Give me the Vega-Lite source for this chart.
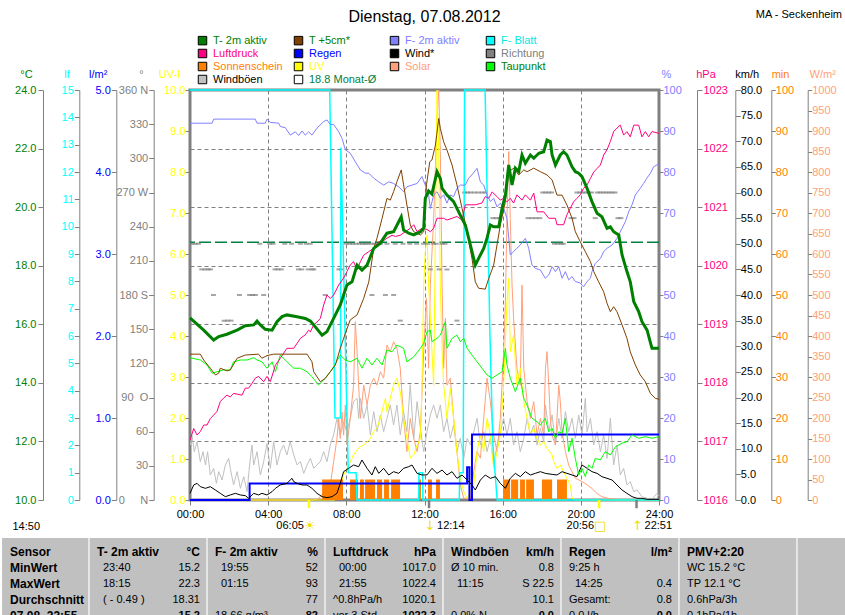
{
  "$schema": "https://vega.github.io/schema/vega-lite/v6.json",
  "padding": {"left": 0, "top": 7, "right": 0, "bottom": 0},
  "background": "white",
  "title": {"text": "MA - Seckenheim", "anchor": "end", "frame": "bounds", "offset": -12, "fontSize": 11, "fontWeight": "normal", "color": "#000000", "dx": -5},
  "config": {
    "font": "Liberation Sans",
    "view": {"stroke": null},
    "axis": {"labelFontSize": 11, "titleFontSize": 11, "titleFontWeight": "normal", "labelOverlap": false, "domainColor": "#808080", "tickColor": "#808080", "grid": false, "labelFont": "Liberation Sans", "titleFont": "Liberation Sans"},
    "title": {"font": "Liberation Sans", "fontWeight": "normal"}
  },
  "datasets": {
    "T2": [{"t":0,"v":16.22},{"t":0.7,"v":15.8},{"t":1.21,"v":15.46},{"t":1.47,"v":15.58},{"t":1.89,"v":15.66},{"t":2.41,"v":15.8},{"t":2.83,"v":15.95},{"t":3.26,"v":15.98},{"t":3.43,"v":16.11},{"t":3.6,"v":15.98},{"t":3.85,"v":15.83},{"t":4.2,"v":15.8},{"t":4.45,"v":16.09},{"t":4.71,"v":16.26},{"t":4.96,"v":16.32},{"t":5.48,"v":16.26},{"t":5.9,"v":16.2},{"t":6.16,"v":16.11},{"t":6.33,"v":15.98},{"t":6.76,"v":15.63},{"t":7.01,"v":15.75},{"t":7.35,"v":16.2},{"t":7.69,"v":16.66},{"t":8.03,"v":17.34},{"t":8.29,"v":17.45},{"t":8.55,"v":18.02},{"t":8.8,"v":17.85},{"t":9.06,"v":18.02},{"t":9.4,"v":18.59},{"t":9.74,"v":18.77},{"t":10.08,"v":19.11},{"t":10.42,"v":19.16},{"t":10.68,"v":19.5},{"t":10.81,"v":19.67},{"t":10.93,"v":19.22},{"t":11.19,"v":19.11},{"t":11.45,"v":19.05},{"t":11.79,"v":19.16},{"t":11.96,"v":19.28},{"t":12.04,"v":20.3},{"t":12.21,"v":20.55},{"t":12.38,"v":20.45},{"t":12.64,"v":21.21},{"t":12.81,"v":20.98},{"t":12.9,"v":20.64},{"t":13.15,"v":20.41},{"t":13.49,"v":20.19},{"t":13.83,"v":19.73},{"t":14.09,"v":19.39},{"t":14.26,"v":18.94},{"t":14.43,"v":18.48},{"t":14.6,"v":18.02},{"t":14.77,"v":18.25},{"t":15.03,"v":18.59},{"t":15.2,"v":18.94},{"t":15.37,"v":19.39},{"t":15.54,"v":19.33},{"t":15.8,"v":19.33},{"t":15.97,"v":19.96},{"t":16.14,"v":20.41},{"t":16.31,"v":21.44},{"t":16.48,"v":20.76},{"t":16.65,"v":21.33},{"t":16.82,"v":21.21},{"t":16.99,"v":21.78},{"t":17.16,"v":21.5},{"t":17.42,"v":21.78},{"t":17.59,"v":21.67},{"t":17.85,"v":21.84},{"t":18.1,"v":21.89},{"t":18.27,"v":22.29},{"t":18.44,"v":22.24},{"t":18.53,"v":21.78},{"t":18.7,"v":21.44},{"t":18.95,"v":21.78},{"t":19.12,"v":21.89},{"t":19.29,"v":21.78},{"t":19.55,"v":21.38},{"t":19.72,"v":21.21},{"t":19.89,"v":21.16},{"t":20.06,"v":21.04},{"t":20.32,"v":20.64},{"t":20.57,"v":20.19},{"t":20.83,"v":19.79},{"t":21.08,"v":19.67},{"t":21.34,"v":19.28},{"t":21.51,"v":19.33},{"t":21.68,"v":19.16},{"t":21.94,"v":19.05},{"t":22.11,"v":18.37},{"t":22.36,"v":17.8},{"t":22.53,"v":17.45},{"t":22.71,"v":16.77},{"t":22.96,"v":16.43},{"t":23.13,"v":16.09},{"t":23.39,"v":15.8},{"t":23.64,"v":15.18},{"t":24,"v":15.18}],
    "T5": [{"t":0,"v":14.98},{"t":0.53,"v":14.98},{"t":0.7,"v":14.78},{"t":1.04,"v":14.5},{"t":1.3,"v":14.27},{"t":1.47,"v":14.33},{"t":1.55,"v":14.5},{"t":1.89,"v":14.41},{"t":2.06,"v":14.44},{"t":2.41,"v":14.84},{"t":2.83,"v":14.95},{"t":3.51,"v":14.98},{"t":3.68,"v":14.84},{"t":3.94,"v":14.93},{"t":4.28,"v":14.98},{"t":5.99,"v":14.98},{"t":6.24,"v":14.72},{"t":6.33,"v":14.38},{"t":6.67,"v":14.04},{"t":6.92,"v":14.15},{"t":7.18,"v":14.38},{"t":7.44,"v":14.61},{"t":7.69,"v":15.18},{"t":7.95,"v":15.69},{"t":8.2,"v":16.15},{"t":8.55,"v":16.32},{"t":8.89,"v":16.89},{"t":9.15,"v":17.45},{"t":9.4,"v":18.59},{"t":9.57,"v":18.94},{"t":9.83,"v":19.62},{"t":10.08,"v":20.3},{"t":10.25,"v":20.24},{"t":10.42,"v":20.53},{"t":10.59,"v":20.87},{"t":10.81,"v":21.27},{"t":10.93,"v":20.76},{"t":11.1,"v":20.07},{"t":11.27,"v":19.39},{"t":11.45,"v":19.16},{"t":11.79,"v":19.05},{"t":11.96,"v":19.16},{"t":12.1,"v":20.76},{"t":12.27,"v":21.55},{"t":12.38,"v":21.61},{"t":12.56,"v":22.12},{"t":12.73,"v":23.03},{"t":12.81,"v":22.69},{"t":12.98,"v":22.23},{"t":13.15,"v":21.95},{"t":13.41,"v":21.44},{"t":13.66,"v":20.76},{"t":13.92,"v":19.96},{"t":14.18,"v":19.16},{"t":14.43,"v":18.25},{"t":14.6,"v":17.45},{"t":14.77,"v":17.23},{"t":15.11,"v":17.2},{"t":15.29,"v":17.57},{"t":15.54,"v":18.02},{"t":15.71,"v":18.71},{"t":15.88,"v":19.39},{"t":16.14,"v":20.19},{"t":16.31,"v":21.21},{"t":16.57,"v":21.33},{"t":16.82,"v":21.1},{"t":17.08,"v":21.27},{"t":17.25,"v":21.21},{"t":17.59,"v":21.33},{"t":17.93,"v":21.21},{"t":18.27,"v":21.1},{"t":18.53,"v":20.93},{"t":18.78,"v":20.41},{"t":19.04,"v":20.41},{"t":19.29,"v":20.07},{"t":19.55,"v":19.62},{"t":19.72,"v":19.16},{"t":19.97,"v":18.82},{"t":20.23,"v":18.48},{"t":20.49,"v":18.14},{"t":20.66,"v":17.8},{"t":20.91,"v":17.45},{"t":21.17,"v":17.11},{"t":21.34,"v":16.72},{"t":21.51,"v":16.43},{"t":21.68,"v":16.6},{"t":21.85,"v":16.43},{"t":22.11,"v":15.98},{"t":22.36,"v":15.52},{"t":22.53,"v":15.06},{"t":22.79,"v":14.61},{"t":23.04,"v":14.27},{"t":23.3,"v":14.04},{"t":23.56,"v":13.64},{"t":23.81,"v":13.47},{"t":24,"v":13.44}],
    "TP": [{"t":0,"v":14.86},{"t":0.53,"v":14.78},{"t":0.87,"v":14.61},{"t":1.13,"v":14.33},{"t":1.38,"v":14.38},{"t":1.72,"v":14.44},{"t":2.06,"v":14.44},{"t":2.23,"v":14.72},{"t":2.58,"v":14.78},{"t":2.92,"v":14.78},{"t":3.26,"v":14.86},{"t":3.43,"v":14.78},{"t":3.68,"v":14.72},{"t":3.94,"v":14.5},{"t":4.2,"v":14.72},{"t":4.37,"v":14.38},{"t":4.62,"v":14.95},{"t":4.96,"v":14.72},{"t":5.31,"v":14.5},{"t":5.65,"v":14.5},{"t":5.99,"v":14.38},{"t":6.24,"v":14.21},{"t":6.58,"v":13.93},{"t":6.84,"v":14.1},{"t":7.18,"v":14.38},{"t":7.35,"v":14.55},{"t":7.69,"v":14.95},{"t":7.95,"v":14.78},{"t":8.2,"v":14.72},{"t":8.55,"v":14.84},{"t":8.8,"v":14.5},{"t":9.06,"v":14.84},{"t":9.31,"v":14.61},{"t":9.57,"v":14.84},{"t":9.83,"v":14.61},{"t":10.08,"v":15.12},{"t":10.34,"v":15.06},{"t":10.59,"v":15.29},{"t":10.93,"v":15.18},{"t":11.1,"v":14.72},{"t":11.45,"v":14.89},{"t":11.79,"v":15.18},{"t":11.96,"v":15.35},{"t":12.13,"v":15.75},{"t":12.3,"v":15.8},{"t":12.38,"v":15.41},{"t":12.64,"v":15.52},{"t":12.81,"v":15.63},{"t":13.07,"v":16.09},{"t":13.15,"v":15.18},{"t":13.41,"v":15.52},{"t":13.66,"v":15.63},{"t":13.83,"v":15.41},{"t":14.01,"v":15.52},{"t":14.18,"v":15.18},{"t":14.43,"v":14.95},{"t":14.69,"v":14.72},{"t":14.94,"v":14.5},{"t":15.2,"v":14.27},{"t":15.46,"v":14.16},{"t":15.71,"v":14.27},{"t":15.97,"v":14.38},{"t":16.14,"v":15.18},{"t":16.22,"v":14.61},{"t":16.39,"v":14.16},{"t":16.65,"v":13.7},{"t":16.9,"v":14.16},{"t":17.08,"v":13.47},{"t":17.25,"v":13.24},{"t":17.5,"v":12.79},{"t":17.76,"v":12.67},{"t":17.93,"v":12.56},{"t":18.18,"v":12.79},{"t":18.36,"v":12.33},{"t":18.53,"v":12.45},{"t":18.7,"v":12.11},{"t":18.87,"v":12.33},{"t":19.04,"v":12.28},{"t":19.21,"v":12.79},{"t":19.38,"v":11.65},{"t":19.55,"v":12.11},{"t":19.72,"v":11.42},{"t":19.89,"v":10.85},{"t":20.06,"v":11.08},{"t":20.23,"v":10.8},{"t":20.4,"v":11.2},{"t":20.57,"v":11.08},{"t":20.74,"v":11.42},{"t":21.0,"v":11.37},{"t":21.25,"v":11.65},{"t":21.51,"v":11.54},{"t":21.77,"v":11.82},{"t":22.11,"v":11.94},{"t":22.36,"v":11.99},{"t":22.62,"v":12.22},{"t":22.96,"v":12.11},{"t":23.3,"v":12.16},{"t":23.64,"v":12.11},{"t":24,"v":12.16}],
    "RH": [{"t":0,"v":91.9},{"t":1.13,"v":91.9},{"t":1.21,"v":92.9},{"t":3.34,"v":92.9},{"t":3.43,"v":91.9},{"t":3.85,"v":91.9},{"t":3.94,"v":92.9},{"t":4.11,"v":92.1},{"t":4.54,"v":91.9},{"t":4.62,"v":91.1},{"t":4.88,"v":90.8},{"t":5.13,"v":89.0},{"t":5.39,"v":89.8},{"t":5.56,"v":88.9},{"t":5.73,"v":90.0},{"t":5.9,"v":89.0},{"t":6.07,"v":89.8},{"t":6.24,"v":89.0},{"t":6.5,"v":90.7},{"t":6.84,"v":92.3},{"t":7.01,"v":92.7},{"t":7.18,"v":91.6},{"t":7.35,"v":91.6},{"t":7.61,"v":89.8},{"t":7.78,"v":88.2},{"t":7.95,"v":85.4},{"t":8.2,"v":84.6},{"t":8.46,"v":82.5},{"t":8.72,"v":80.5},{"t":8.97,"v":79.7},{"t":9.15,"v":79.7},{"t":9.4,"v":78.5},{"t":9.66,"v":77.6},{"t":9.91,"v":76.8},{"t":10.17,"v":77.6},{"t":10.42,"v":77.2},{"t":10.68,"v":76.4},{"t":10.93,"v":75.2},{"t":11.1,"v":76.4},{"t":11.36,"v":76.8},{"t":11.62,"v":77.2},{"t":11.87,"v":78.9},{"t":12.04,"v":76.8},{"t":12.21,"v":74.4},{"t":12.3,"v":71.1},{"t":12.47,"v":74.4},{"t":12.64,"v":75.2},{"t":12.81,"v":73.6},{"t":12.98,"v":74.4},{"t":13.15,"v":72.4},{"t":13.32,"v":74.4},{"t":13.49,"v":74.0},{"t":13.66,"v":76.0},{"t":13.83,"v":76.8},{"t":14.09,"v":76.8},{"t":14.26,"v":78.5},{"t":14.43,"v":79.3},{"t":14.69,"v":80.9},{"t":14.86,"v":77.6},{"t":15.03,"v":76.8},{"t":15.2,"v":74.4},{"t":15.37,"v":72.8},{"t":15.54,"v":73.6},{"t":15.71,"v":71.5},{"t":15.88,"v":72.4},{"t":16.05,"v":71.1},{"t":16.22,"v":68.7},{"t":16.39,"v":59.8},{"t":16.56,"v":60.6},{"t":16.73,"v":61.4},{"t":16.9,"v":62.2},{"t":17.16,"v":63.8},{"t":17.33,"v":61.4},{"t":17.5,"v":57.3},{"t":17.67,"v":56.5},{"t":17.93,"v":56.1},{"t":18.18,"v":54.1},{"t":18.36,"v":54.9},{"t":18.53,"v":56.9},{"t":18.7,"v":55.7},{"t":18.87,"v":56.9},{"t":19.04,"v":54.1},{"t":19.21,"v":55.7},{"t":19.38,"v":53.7},{"t":19.55,"v":54.5},{"t":19.72,"v":53.3},{"t":19.97,"v":52.9},{"t":20.14,"v":52.0},{"t":20.32,"v":53.3},{"t":20.49,"v":54.1},{"t":20.57,"v":55.7},{"t":20.74,"v":57.7},{"t":21.0,"v":58.9},{"t":21.17,"v":60.6},{"t":21.34,"v":61.4},{"t":21.6,"v":62.2},{"t":21.85,"v":63.8},{"t":22.11,"v":66.3},{"t":22.28,"v":67.9},{"t":22.45,"v":70.3},{"t":22.62,"v":72.0},{"t":22.79,"v":74.4},{"t":23.04,"v":76.0},{"t":23.21,"v":77.2},{"t":23.38,"v":78.5},{"t":23.56,"v":79.7},{"t":23.73,"v":81.3},{"t":24,"v":82.0}],
    "LB": [{"t":0,"v":15},{"t":7.15,"v":15},{"t":7.42,"v":3},{"t":7.7,"v":3},{"t":7.72,"v":12.9},{"t":8.1,"v":1},{"t":8.5,"v":1},{"t":8.55,"v":0},{"t":11.7,"v":0},{"t":11.72,"v":1},{"t":11.9,"v":1},{"t":11.92,"v":0},{"t":13.78,"v":0},{"t":13.8,"v":1},{"t":13.98,"v":1},{"t":14.05,"v":15},{"t":15.1,"v":15},{"t":15.35,"v":6},{"t":15.5,"v":2},{"t":15.72,"v":0},{"t":24,"v":0}],
    "P": [{"t":0,"v":1017.02},{"t":0.19,"v":1017.22},{"t":0.36,"v":1017.11},{"t":0.53,"v":1017.17},{"t":0.7,"v":1017.28},{"t":0.87,"v":1017.28},{"t":1.04,"v":1017.39},{"t":1.21,"v":1017.45},{"t":1.38,"v":1017.51},{"t":1.55,"v":1017.68},{"t":1.72,"v":1017.74},{"t":1.89,"v":1017.79},{"t":2.06,"v":1017.76},{"t":2.23,"v":1017.82},{"t":2.66,"v":1017.79},{"t":2.83,"v":1017.91},{"t":3.0,"v":1017.91},{"t":3.17,"v":1017.99},{"t":3.34,"v":1018.08},{"t":3.51,"v":1018.11},{"t":3.77,"v":1018.02},{"t":3.94,"v":1018.11},{"t":4.11,"v":1018.02},{"t":4.37,"v":1018.3},{"t":4.62,"v":1018.42},{"t":4.96,"v":1018.59},{"t":5.31,"v":1018.59},{"t":5.65,"v":1018.76},{"t":5.9,"v":1018.82},{"t":6.07,"v":1018.9},{"t":6.16,"v":1018.87},{"t":6.33,"v":1018.99},{"t":6.5,"v":1019.04},{"t":6.67,"v":1019.1},{"t":6.84,"v":1019.33},{"t":7.01,"v":1019.5},{"t":7.18,"v":1019.44},{"t":7.35,"v":1019.5},{"t":7.61,"v":1019.67},{"t":7.86,"v":1019.79},{"t":8.03,"v":1019.9},{"t":8.2,"v":1020.01},{"t":8.37,"v":1020.07},{"t":8.55,"v":1019.93},{"t":8.72,"v":1020.07},{"t":8.89,"v":1020.18},{"t":9.15,"v":1020.24},{"t":9.4,"v":1020.3},{"t":9.66,"v":1020.41},{"t":9.83,"v":1020.41},{"t":10.08,"v":1020.47},{"t":10.34,"v":1020.52},{"t":10.51,"v":1020.5},{"t":10.76,"v":1020.52},{"t":11.02,"v":1020.58},{"t":11.27,"v":1020.64},{"t":11.45,"v":1020.7},{"t":11.62,"v":1020.58},{"t":11.87,"v":1020.64},{"t":12.13,"v":1020.62},{"t":12.3,"v":1020.58},{"t":12.47,"v":1020.64},{"t":12.64,"v":1020.81},{"t":12.98,"v":1020.81},{"t":13.15,"v":1020.78},{"t":13.41,"v":1020.81},{"t":13.66,"v":1020.84},{"t":13.92,"v":1020.78},{"t":14.09,"v":1021.04},{"t":14.6,"v":1021.04},{"t":14.94,"v":1021.07},{"t":15.11,"v":1021.18},{"t":15.29,"v":1021.15},{"t":15.46,"v":1021.26},{"t":15.71,"v":1021.18},{"t":15.88,"v":1021.12},{"t":16.05,"v":1021.15},{"t":16.22,"v":1021.09},{"t":16.39,"v":1021.15},{"t":16.56,"v":1021.07},{"t":16.73,"v":1021.21},{"t":16.99,"v":1021.12},{"t":17.16,"v":1021.21},{"t":17.42,"v":1021.12},{"t":17.59,"v":1021.24},{"t":17.76,"v":1020.92},{"t":18.1,"v":1020.92},{"t":18.36,"v":1020.81},{"t":18.7,"v":1020.81},{"t":18.78,"v":1020.7},{"t":19.12,"v":1020.7},{"t":19.29,"v":1020.87},{"t":19.46,"v":1020.98},{"t":19.63,"v":1021.09},{"t":19.8,"v":1021.15},{"t":19.97,"v":1021.21},{"t":20.14,"v":1021.32},{"t":20.32,"v":1021.38},{"t":20.49,"v":1021.49},{"t":20.66,"v":1021.6},{"t":20.83,"v":1021.66},{"t":21.0,"v":1021.72},{"t":21.17,"v":1021.89},{"t":21.34,"v":1021.98},{"t":21.51,"v":1022.12},{"t":21.68,"v":1022.29},{"t":21.85,"v":1022.35},{"t":22.02,"v":1022.4},{"t":22.19,"v":1022.23},{"t":22.36,"v":1022.29},{"t":22.53,"v":1022.2},{"t":22.71,"v":1022.4},{"t":22.96,"v":1022.4},{"t":23.13,"v":1022.2},{"t":23.3,"v":1022.29},{"t":23.47,"v":1022.2},{"t":23.64,"v":1022.29},{"t":24,"v":1022.26}],
    "R": [{"t":0,"v":0},{"t":3.05,"v":0.2},{"t":14.18,"v":0.4},{"t":14.3,"v":0},{"t":14.43,"v":0.8},{"t":24,"v":0.8}],
    "W": [{"t":0,"v":1.3},{"t":0.19,"v":2.93},{"t":0.36,"v":3.25},{"t":0.53,"v":2.6},{"t":0.79,"v":2.28},{"t":1.04,"v":2.6},{"t":1.3,"v":1.95},{"t":1.55,"v":1.3},{"t":1.81,"v":0.65},{"t":2.06,"v":0.98},{"t":2.32,"v":1.3},{"t":2.58,"v":0.98},{"t":2.83,"v":0.85},{"t":3.0,"v":0.33},{"t":3.26,"v":1.3},{"t":3.51,"v":0.98},{"t":3.68,"v":1.3},{"t":3.94,"v":0.98},{"t":4.2,"v":1.63},{"t":4.37,"v":2.28},{"t":4.62,"v":2.93},{"t":4.96,"v":3.25},{"t":5.22,"v":4.23},{"t":5.31,"v":3.58},{"t":5.48,"v":3.25},{"t":5.73,"v":2.93},{"t":5.99,"v":2.93},{"t":6.24,"v":2.28},{"t":6.5,"v":1.3},{"t":6.76,"v":0.65},{"t":7.01,"v":0.46},{"t":7.27,"v":0.65},{"t":7.52,"v":1.3},{"t":7.69,"v":3.25},{"t":7.86,"v":5.53},{"t":8.12,"v":6.18},{"t":8.37,"v":6.83},{"t":8.63,"v":6.5},{"t":8.8,"v":7.8},{"t":9.06,"v":6.18},{"t":9.31,"v":4.88},{"t":9.48,"v":6.5},{"t":9.66,"v":5.2},{"t":9.91,"v":6.18},{"t":10.17,"v":4.88},{"t":10.42,"v":5.53},{"t":10.68,"v":5.2},{"t":10.93,"v":6.18},{"t":11.19,"v":6.5},{"t":11.36,"v":6.83},{"t":11.62,"v":5.2},{"t":11.87,"v":4.88},{"t":12.13,"v":4.9},{"t":12.38,"v":6.18},{"t":12.64,"v":5.2},{"t":12.9,"v":5.85},{"t":13.15,"v":4.88},{"t":13.41,"v":5.53},{"t":13.66,"v":4.23},{"t":13.92,"v":4.88},{"t":14.18,"v":3.9},{"t":14.43,"v":2.93},{"t":14.6,"v":1.95},{"t":14.86,"v":3.9},{"t":15.11,"v":4.88},{"t":15.37,"v":4.23},{"t":15.63,"v":4.55},{"t":15.88,"v":3.25},{"t":16.14,"v":2.28},{"t":16.39,"v":4.23},{"t":16.65,"v":5.2},{"t":16.9,"v":4.55},{"t":17.16,"v":5.53},{"t":17.42,"v":4.88},{"t":17.67,"v":5.2},{"t":17.93,"v":5.53},{"t":18.18,"v":5.2},{"t":18.53,"v":5.0},{"t":18.78,"v":4.88},{"t":19.04,"v":5.53},{"t":19.29,"v":5.2},{"t":19.55,"v":4.88},{"t":19.8,"v":4.55},{"t":20.06,"v":6.83},{"t":20.32,"v":6.18},{"t":20.57,"v":5.53},{"t":20.83,"v":5.2},{"t":21.08,"v":4.55},{"t":21.34,"v":4.23},{"t":21.6,"v":3.9},{"t":21.85,"v":2.93},{"t":22.11,"v":1.95},{"t":22.36,"v":1.3},{"t":22.62,"v":0.65},{"t":22.88,"v":0.33},{"t":23.13,"v":0.33},{"t":23.39,"v":0.13},{"t":24,"v":0.13}],
    "G": [{"t":0.02,"v":10.73},{"t":0.1,"v":12.68},{"t":0.22,"v":9.43},{"t":0.36,"v":11.38},{"t":0.53,"v":7.48},{"t":0.67,"v":9.43},{"t":0.79,"v":6.83},{"t":0.9,"v":9.43},{"t":1.04,"v":4.88},{"t":1.21,"v":6.18},{"t":1.35,"v":3.25},{"t":1.47,"v":5.53},{"t":1.64,"v":3.9},{"t":1.81,"v":6.83},{"t":1.98,"v":8.13},{"t":2.06,"v":6.18},{"t":2.23,"v":2.93},{"t":2.41,"v":5.53},{"t":2.58,"v":2.28},{"t":2.75,"v":4.55},{"t":2.92,"v":1.63},{"t":3.05,"v":6.83},{"t":3.17,"v":10.73},{"t":3.26,"v":6.83},{"t":3.43,"v":9.43},{"t":3.6,"v":4.88},{"t":3.77,"v":7.48},{"t":3.94,"v":11.06},{"t":4.11,"v":6.18},{"t":4.28,"v":11.38},{"t":4.45,"v":6.83},{"t":4.62,"v":9.43},{"t":4.79,"v":10.73},{"t":4.96,"v":8.78},{"t":5.13,"v":11.38},{"t":5.31,"v":8.78},{"t":5.48,"v":6.83},{"t":5.65,"v":7.48},{"t":5.82,"v":5.2},{"t":5.99,"v":6.83},{"t":6.16,"v":8.13},{"t":6.33,"v":6.18},{"t":6.5,"v":6.83},{"t":6.67,"v":7.48},{"t":6.84,"v":9.43},{"t":7.01,"v":7.48},{"t":7.18,"v":10.73},{"t":7.35,"v":12.68},{"t":7.52,"v":15.93},{"t":7.69,"v":12.68},{"t":7.86,"v":15.28},{"t":8.03,"v":13.33},{"t":8.2,"v":15.93},{"t":8.37,"v":19.19},{"t":8.55,"v":19.84},{"t":8.63,"v":15.93},{"t":8.72,"v":19.84},{"t":8.89,"v":15.93},{"t":9.06,"v":18.54},{"t":9.23,"v":12.68},{"t":9.4,"v":17.24},{"t":9.57,"v":13.33},{"t":9.74,"v":16.59},{"t":9.91,"v":13.33},{"t":10.08,"v":15.93},{"t":10.25,"v":18.54},{"t":10.42,"v":14.63},{"t":10.59,"v":18.54},{"t":10.76,"v":12.68},{"t":10.93,"v":17.24},{"t":11.1,"v":13.33},{"t":11.27,"v":22.5},{"t":11.45,"v":12.03},{"t":11.62,"v":19.19},{"t":11.79,"v":13.98},{"t":11.96,"v":9.43},{"t":12.13,"v":13.33},{"t":12.3,"v":16.59},{"t":12.47,"v":18.54},{"t":12.64,"v":15.93},{"t":12.81,"v":18.54},{"t":12.98,"v":13.33},{"t":13.15,"v":15.93},{"t":13.32,"v":12.03},{"t":13.49,"v":14.63},{"t":13.66,"v":9.43},{"t":13.83,"v":12.03},{"t":14.01,"v":8.13},{"t":14.18,"v":12.03},{"t":14.35,"v":10.73},{"t":14.52,"v":13.33},{"t":14.69,"v":15.93},{"t":14.86,"v":10.73},{"t":15.03,"v":13.33},{"t":15.2,"v":9.43},{"t":15.37,"v":12.03},{"t":15.54,"v":6.83},{"t":15.71,"v":10.73},{"t":15.88,"v":13.33},{"t":16.05,"v":15.93},{"t":16.22,"v":12.68},{"t":16.39,"v":15.93},{"t":16.56,"v":10.73},{"t":16.73,"v":13.33},{"t":16.9,"v":9.43},{"t":17.08,"v":12.03},{"t":17.25,"v":15.93},{"t":17.42,"v":12.68},{"t":17.59,"v":14.63},{"t":17.76,"v":10.73},{"t":17.93,"v":13.98},{"t":18.1,"v":11.38},{"t":18.19,"v":18.54},{"t":18.36,"v":13.33},{"t":18.53,"v":16.59},{"t":18.7,"v":10.73},{"t":18.87,"v":15.93},{"t":19.04,"v":12.03},{"t":19.21,"v":17.24},{"t":19.38,"v":13.33},{"t":19.55,"v":15.93},{"t":19.72,"v":12.03},{"t":19.89,"v":16.59},{"t":20.06,"v":12.68},{"t":20.23,"v":19.84},{"t":20.32,"v":13.33},{"t":20.49,"v":15.93},{"t":20.66,"v":10.73},{"t":20.83,"v":13.33},{"t":21.0,"v":9.43},{"t":21.17,"v":12.68},{"t":21.34,"v":8.13},{"t":21.51,"v":15.93},{"t":21.68,"v":6.83},{"t":21.85,"v":10.73},{"t":22.02,"v":4.88},{"t":22.19,"v":6.18},{"t":22.36,"v":2.93},{"t":22.53,"v":3.58},{"t":22.71,"v":1.63},{"t":22.88,"v":1.95},{"t":23.13,"v":0.65},{"t":23.39,"v":0.33},{"t":23.64,"v":0.13},{"t":23.9,"v":1.3},{"t":24,"v":0.8}],
    "UV": [{"t":0,"v":0},{"t":7.4,"v":0},{"t":7.52,"v":0.04},{"t":7.69,"v":0.37},{"t":7.86,"v":0.61},{"t":8.03,"v":0.77},{"t":8.2,"v":0.93},{"t":8.37,"v":1.1},{"t":8.55,"v":1.22},{"t":8.72,"v":1.3},{"t":8.89,"v":1.34},{"t":9.06,"v":1.42},{"t":9.23,"v":1.5},{"t":9.4,"v":1.67},{"t":9.57,"v":1.75},{"t":9.74,"v":1.99},{"t":9.91,"v":2.32},{"t":10.0,"v":2.48},{"t":10.08,"v":2.15},{"t":10.25,"v":2.48},{"t":10.42,"v":2.8},{"t":10.59,"v":2.97},{"t":10.76,"v":2.64},{"t":10.93,"v":1.99},{"t":11.1,"v":1.5},{"t":11.27,"v":1.02},{"t":11.45,"v":1.1},{"t":11.62,"v":1.34},{"t":11.79,"v":1.5},{"t":11.87,"v":2.8},{"t":11.96,"v":5.24},{"t":12.04,"v":6.06},{"t":12.13,"v":6.46},{"t":12.21,"v":5.24},{"t":12.3,"v":4.43},{"t":12.38,"v":3.62},{"t":12.47,"v":2.8},{"t":12.64,"v":10},{"t":12.73,"v":8.5},{"t":12.81,"v":5.24},{"t":12.9,"v":3.62},{"t":12.98,"v":2.8},{"t":13.15,"v":1.99},{"t":13.24,"v":2.4},{"t":13.32,"v":2.72},{"t":13.49,"v":1.99},{"t":13.66,"v":1.18},{"t":13.83,"v":0.53},{"t":14.01,"v":0.2},{"t":14.18,"v":0.04},{"t":14.52,"v":0.37},{"t":14.69,"v":1.18},{"t":14.86,"v":1.59},{"t":15.03,"v":1.18},{"t":15.2,"v":1.99},{"t":15.37,"v":1.59},{"t":15.54,"v":0.77},{"t":15.71,"v":1.18},{"t":15.88,"v":1.59},{"t":16.05,"v":2.8},{"t":16.22,"v":4.84},{"t":16.31,"v":5.41},{"t":16.39,"v":3.62},{"t":16.56,"v":4.02},{"t":16.73,"v":2.8},{"t":16.9,"v":3.21},{"t":17.08,"v":2.4},{"t":17.25,"v":1.99},{"t":17.42,"v":1.59},{"t":17.59,"v":1.75},{"t":17.76,"v":1.5},{"t":17.93,"v":1.34},{"t":18.1,"v":1.42},{"t":18.27,"v":1.26},{"t":18.53,"v":1.1},{"t":18.61,"v":0.93},{"t":18.78,"v":0.77},{"t":18.95,"v":0.85},{"t":19.12,"v":0.69},{"t":19.29,"v":0.53},{"t":19.46,"v":0.37},{"t":19.55,"v":0.04},{"t":19.72,"v":0},{"t":24,"v":0}],
    "SO": [{"t":0,"v":0},{"t":6.3,"v":0},{"t":6.6,"v":4},{"t":6.84,"v":20},{"t":7.01,"v":4},{"t":7.18,"v":37},{"t":7.35,"v":93},{"t":7.52,"v":150},{"t":7.61,"v":199},{"t":7.69,"v":150},{"t":7.78,"v":215},{"t":7.86,"v":158},{"t":7.95,"v":232},{"t":8.03,"v":134},{"t":8.2,"v":199},{"t":8.37,"v":280},{"t":8.46,"v":435},{"t":8.55,"v":362},{"t":8.63,"v":280},{"t":8.72,"v":199},{"t":8.89,"v":280},{"t":9.06,"v":232},{"t":9.23,"v":280},{"t":9.4,"v":297},{"t":9.57,"v":280},{"t":9.74,"v":313},{"t":9.91,"v":297},{"t":10.08,"v":378},{"t":10.25,"v":362},{"t":10.42,"v":386},{"t":10.59,"v":370},{"t":10.76,"v":321},{"t":10.93,"v":199},{"t":11.1,"v":118},{"t":11.27,"v":199},{"t":11.45,"v":150},{"t":11.62,"v":118},{"t":11.79,"v":167},{"t":11.96,"v":362},{"t":12.1,"v":492},{"t":12.21,"v":321},{"t":12.3,"v":524},{"t":12.47,"v":687},{"t":12.64,"v":931},{"t":12.73,"v":1000},{"t":12.81,"v":850},{"t":12.9,"v":524},{"t":12.98,"v":321},{"t":13.07,"v":443},{"t":13.15,"v":280},{"t":13.32,"v":297},{"t":13.49,"v":199},{"t":13.66,"v":118},{"t":13.83,"v":37},{"t":14.01,"v":4},{"t":14.35,"v":4},{"t":14.52,"v":69},{"t":14.69,"v":118},{"t":14.86,"v":102},{"t":15.03,"v":199},{"t":15.2,"v":297},{"t":15.37,"v":240},{"t":15.54,"v":158},{"t":15.71,"v":118},{"t":15.88,"v":199},{"t":16.05,"v":362},{"t":16.14,"v":484},{"t":16.22,"v":687},{"t":16.31,"v":850},{"t":16.39,"v":687},{"t":16.48,"v":524},{"t":16.56,"v":443},{"t":16.73,"v":321},{"t":16.9,"v":280},{"t":16.99,"v":524},{"t":17.08,"v":321},{"t":17.25,"v":240},{"t":17.42,"v":199},{"t":17.59,"v":240},{"t":17.76,"v":158},{"t":17.93,"v":199},{"t":18.1,"v":158},{"t":18.19,"v":321},{"t":18.27,"v":362},{"t":18.36,"v":280},{"t":18.44,"v":199},{"t":18.53,"v":158},{"t":18.7,"v":134},{"t":18.78,"v":199},{"t":18.87,"v":280},{"t":18.95,"v":240},{"t":19.04,"v":167},{"t":19.21,"v":118},{"t":19.38,"v":85},{"t":19.55,"v":69},{"t":19.72,"v":53},{"t":19.89,"v":49},{"t":20.06,"v":45},{"t":20.32,"v":37},{"t":20.57,"v":28},{"t":20.83,"v":16},{"t":21.08,"v":8},{"t":21.42,"v":4},{"t":21.77,"v":2},{"t":22.11,"v":0},{"t":24,"v":0}],
    "dir": [{"t":0.1,"v":225},{"t":0.27,"v":225},{"t":0.43,"v":225},{"t":0.6,"v":202.5},{"t":0.77,"v":202.5},{"t":0.93,"v":202.5},{"t":1.05,"v":202.5},{"t":1.2,"v":180},{"t":1.75,"v":157.5},{"t":1.92,"v":157.5},{"t":2.1,"v":157.5},{"t":2.53,"v":180},{"t":3.05,"v":180},{"t":3.2,"v":180},{"t":3.35,"v":180},{"t":3.57,"v":225},{"t":3.77,"v":180},{"t":4.08,"v":225},{"t":4.25,"v":225},{"t":4.35,"v":202.5},{"t":4.5,"v":202.5},{"t":4.67,"v":202.5},{"t":4.85,"v":225},{"t":5.2,"v":225},{"t":5.55,"v":202.5},{"t":5.65,"v":225},{"t":5.72,"v":202.5},{"t":5.95,"v":225},{"t":6.05,"v":202.5},{"t":6.15,"v":225},{"t":6.25,"v":202.5},{"t":6.33,"v":202.5},{"t":6.92,"v":180},{"t":7.62,"v":202.5},{"t":7.75,"v":202.5},{"t":8.0,"v":225},{"t":8.17,"v":225},{"t":8.33,"v":225},{"t":8.5,"v":225},{"t":8.67,"v":225},{"t":8.83,"v":225},{"t":8.97,"v":225},{"t":9.1,"v":225},{"t":9.27,"v":225},{"t":9.31,"v":180},{"t":9.45,"v":225},{"t":9.75,"v":225},{"t":10.0,"v":180},{"t":10.08,"v":225},{"t":10.42,"v":180},{"t":10.5,"v":225},{"t":10.76,"v":157.5},{"t":10.9,"v":225},{"t":11.25,"v":225},{"t":11.6,"v":225},{"t":11.95,"v":225},{"t":12.15,"v":225},{"t":12.3,"v":202.5},{"t":12.45,"v":225},{"t":12.6,"v":225},{"t":12.75,"v":202.5},{"t":12.9,"v":225},{"t":13.05,"v":225},{"t":13.15,"v":202.5},{"t":13.66,"v":157.5},{"t":14.05,"v":270},{"t":14.2,"v":270},{"t":14.35,"v":270},{"t":14.55,"v":270},{"t":14.75,"v":270},{"t":14.95,"v":270},{"t":15.1,"v":270},{"t":15.5,"v":247.5},{"t":15.67,"v":247.5},{"t":15.85,"v":247.5},{"t":17.3,"v":247.5},{"t":17.5,"v":247.5},{"t":17.7,"v":247.5},{"t":17.9,"v":247.5},{"t":18.05,"v":270},{"t":18.2,"v":270},{"t":18.35,"v":270},{"t":18.5,"v":270},{"t":18.65,"v":225},{"t":18.82,"v":225},{"t":19.0,"v":225},{"t":19.1,"v":225},{"t":19.5,"v":247.5},{"t":19.65,"v":247.5},{"t":19.8,"v":270},{"t":19.95,"v":270},{"t":20.1,"v":270},{"t":20.25,"v":270},{"t":20.4,"v":270},{"t":20.55,"v":270},{"t":20.74,"v":247.5},{"t":20.85,"v":270},{"t":21.0,"v":270},{"t":21.15,"v":270},{"t":21.3,"v":270},{"t":21.45,"v":270},{"t":21.6,"v":270},{"t":21.75,"v":270},{"t":21.9,"v":247.5},{"t":22.05,"v":247.5}],
    "sun": [{"t0":6.76,"t1":7.83,"v":5},{"t0":8.19,"t1":8.6,"v":5},{"t0":8.7,"t1":8.9,"v":5},{"t0":8.96,"t1":9.47,"v":5},{"t0":9.57,"t1":9.83,"v":5},{"t0":9.93,"t1":10.18,"v":5},{"t0":10.29,"t1":10.75,"v":5},{"t0":11.72,"t1":11.82,"v":5},{"t0":12.18,"t1":12.38,"v":5},{"t0":12.59,"t1":12.79,"v":5},{"t0":16.02,"t1":16.38,"v":5},{"t0":16.43,"t1":16.79,"v":5},{"t0":16.89,"t1":17.14,"v":5},{"t0":17.2,"t1":17.6,"v":5},{"t0":18.01,"t1":18.53,"v":5},{"t0":18.78,"t1":19.29,"v":5}],
    "ev": [{"t":6.083,"lab":"06:05","sym":"☀","side":"l","kind":"sun"},{"t":12.233,"lab":"12:14","sym":"↓","side":"r","kind":"moon"},{"t":20.933,"lab":"20:56","sym":"□","side":"l","kind":"sun"},{"t":22.85,"lab":"22:51","sym":"↑","side":"r","kind":"moon"}],
    "tbl": [
      {"row":"Sensor","pos":"lab","col":0,"text":"Sensor"},
      {"row":"MinWert","pos":"lab","col":0,"text":"MinWert"},
      {"row":"MaxWert","pos":"lab","col":0,"text":"MaxWert"},
      {"row":"Durchschnitt","pos":"lab","col":0,"text":"Durchschnitt"},
      {"row":"07.08. 23:55","pos":"lab","col":0,"text":"07.08. 23:55"},
      {"row":"Sensor","pos":"l","col":0,"text":"T- 2m aktiv"},
      {"row":"Sensor","pos":"r","col":0,"text":"°C"},
      {"row":"Sensor","pos":"l","col":1,"text":"F- 2m aktiv"},
      {"row":"Sensor","pos":"r","col":1,"text":"%"},
      {"row":"Sensor","pos":"l","col":2,"text":"Luftdruck"},
      {"row":"Sensor","pos":"r","col":2,"text":"hPa"},
      {"row":"Sensor","pos":"l","col":3,"text":"Windböen"},
      {"row":"Sensor","pos":"r","col":3,"text":"km/h"},
      {"row":"Sensor","pos":"l","col":4,"text":"Regen"},
      {"row":"Sensor","pos":"r","col":4,"text":"l/m²"},
      {"row":"Sensor","pos":"l","col":5,"text":"PMV+2:20"},
      {"row":"MinWert","pos":"li","col":0,"text":"23:40"},
      {"row":"MinWert","pos":"r","col":0,"text":"15.2"},
      {"row":"MinWert","pos":"li","col":1,"text":"19:55"},
      {"row":"MinWert","pos":"r","col":1,"text":"52"},
      {"row":"MinWert","pos":"li","col":2,"text":"00:00"},
      {"row":"MinWert","pos":"r","col":2,"text":"1017.0"},
      {"row":"MinWert","pos":"l","col":3,"text":"Ø 10 min."},
      {"row":"MinWert","pos":"r","col":3,"text":"0.8"},
      {"row":"MinWert","pos":"l","col":4,"text":"9:25 h"},
      {"row":"MinWert","pos":"l","col":5,"text":"WC 15.2 °C"},
      {"row":"MaxWert","pos":"li","col":0,"text":"18:15"},
      {"row":"MaxWert","pos":"r","col":0,"text":"22.3"},
      {"row":"MaxWert","pos":"li","col":1,"text":"01:15"},
      {"row":"MaxWert","pos":"r","col":1,"text":"93"},
      {"row":"MaxWert","pos":"li","col":2,"text":"21:55"},
      {"row":"MaxWert","pos":"r","col":2,"text":"1022.4"},
      {"row":"MaxWert","pos":"li","col":3,"text":"11:15"},
      {"row":"MaxWert","pos":"r","col":3,"text":"S 22.5"},
      {"row":"MaxWert","pos":"li","col":4,"text":"14:25"},
      {"row":"MaxWert","pos":"r","col":4,"text":"0.4"},
      {"row":"MaxWert","pos":"l","col":5,"text":"TP 12.1 °C"},
      {"row":"Durchschnitt","pos":"li","col":0,"text":"( - 0.49 )"},
      {"row":"Durchschnitt","pos":"r","col":0,"text":"18.31"},
      {"row":"Durchschnitt","pos":"r","col":1,"text":"77"},
      {"row":"Durchschnitt","pos":"l","col":2,"text":"^0.8hPa/h"},
      {"row":"Durchschnitt","pos":"r","col":2,"text":"1020.1"},
      {"row":"Durchschnitt","pos":"r","col":3,"text":"10.1"},
      {"row":"Durchschnitt","pos":"l","col":4,"text":"Gesamt:"},
      {"row":"Durchschnitt","pos":"r","col":4,"text":"0.8"},
      {"row":"Durchschnitt","pos":"l","col":5,"text":"0.6hPa/3h"},
      {"row":"07.08. 23:55","pos":"r","col":0,"text":"15.2"},
      {"row":"07.08. 23:55","pos":"l","col":1,"text":"18.66 g/m³"},
      {"row":"07.08. 23:55","pos":"r","col":1,"text":"82"},
      {"row":"07.08. 23:55","pos":"l","col":2,"text":"vor 3 Std."},
      {"row":"07.08. 23:55","pos":"r","col":2,"text":"1022.3"},
      {"row":"07.08. 23:55","pos":"l","col":3,"text":"0.0% N"},
      {"row":"07.08. 23:55","pos":"r","col":3,"text":"0.0"},
      {"row":"07.08. 23:55","pos":"l","col":4,"text":"0.0 l/h"},
      {"row":"07.08. 23:55","pos":"r","col":4,"text":"0.0"},
      {"row":"07.08. 23:55","pos":"l","col":5,"text":"0.1hPa/1h"}
    ],
    "leg": [{"s":"T- 2m aktiv"},{"s":"T +5cm*"},{"s":"F- 2m aktiv"},{"s":"F- Blatt"},{"s":"Luftdruck"},{"s":"Regen"},{"s":"Wind*"},{"s":"Richtung"},{"s":"Sonnenschein"},{"s":"UV"},{"s":"Solar"},{"s":"Taupunkt"},{"s":"Windböen"},{"s":"18.8 Monat-Ø"}]
  },
  "columns": 1,
  "spacing": 2,
  "concat": [
    {
      "width": 469,
      "height": 410,
      "title": {"text": "Dienstag, 07.08.2012", "fontSize": 16, "fontWeight": "normal", "anchor": "middle", "frame": "group", "offset": 43, "color": "#000000"},
      "view": {"stroke": "#808080", "strokeWidth": 3},
      "resolve": {"scale": {"y": "independent"}},
      "layer": [
        {
          "data": {"values": [{}]},
          "mark": {"type": "rule", "color": "#008040", "strokeWidth": 1.5, "strokeDash": [12, 4]},
          "encoding": {
            "y": {"datum": 18.8, "type": "quantitative", "scale": {"domain": [10, 24], "nice": false, "zero": false},
              "axis": {"orient": "left", "offset": 0, "grid": true, "gridColor": "#808080", "gridDash": [4, 3], "gridWidth": 1, "values": [12, 14, 16, 18, 20, 22], "labels": false, "ticks": false, "domain": false, "title": null}}
          }
        },
        {
          "data": {"name": "G"},
          "mark": {"type": "line", "color": "#c0c0c0", "strokeWidth": 1},
          "encoding": {
            "x": {"field": "t", "type": "quantitative", "scale": {"domain": [0, 24], "nice": false, "zero": false},
              "axis": {"orient": "bottom", "values": [0,2,4,6,8,10,12,14,16,18,20,22,24], "labelExpr": "(datum.value < 10 ? '0' : '') + datum.value + ':00'", "labelFlush": false, "labelColor": "#000000", "labelPadding": 3, "tickSize": 5, "tickColor": "#808080", "domain": false, "grid": true, "gridColor": "#808080", "gridDash": [4, 3], "gridWidth": 1, "title": "14:50", "titleX": -178, "titleY": 26, "titleAlign": "left", "titleBaseline": "middle", "titleColor": "#000000", "titleFontWeight": "normal"}},
            "y": {"field": "v", "type": "quantitative", "scale": {"domain": [0, 80], "nice": false, "zero": false}, "axis": null}
          }
        },
        {
          "data": {"name": "SO"},
          "mark": {"type": "line", "color": "#ffa07a", "strokeWidth": 1},
          "encoding": {
            "x": {"field": "t", "type": "quantitative", "scale": {"domain": [0, 24], "nice": false, "zero": false}},
            "y": {"field": "v", "type": "quantitative", "scale": {"domain": [0, 1000], "nice": false, "zero": false},
              "axis": {"orient": "right", "offset": 148.7, "values": [0,50,100,150,200,250,300,350,400,450,500,550,600,650,700,750,800,850,900,950,1000], "format": "d", "labelColor": "#ffa07a", "tickSize": 4, "labelPadding": 0, "title": "W/m²", "titleColor": "#ffa07a", "titleAngle": 0, "titleX": 14.5, "titleY": -16, "titleAlign": "center", "titleBaseline": "middle"}}
          }
        },
        {
          "data": {"name": "UV"},
          "mark": {"type": "line", "color": "#ffff00", "strokeWidth": 1},
          "encoding": {
            "x": {"field": "t", "type": "quantitative", "scale": {"domain": [0, 24], "nice": false, "zero": false}},
            "y": {"field": "v", "type": "quantitative", "scale": {"domain": [0, 10], "nice": false, "zero": false},
              "axis": {"orient": "left", "offset": 0, "values": [0,1,2,3,4,5,6,7,8,9,10], "format": ".1f", "labelColor": "#ffff00", "tickSize": 5, "labelPadding": 0, "domain": false, "title": "UV-I", "titleColor": "#ffff00", "titleAngle": 0, "titleX": -21, "titleY": -16, "titleAlign": "center", "titleBaseline": "middle"}}
          }
        },
        {
          "data": {"name": "sun"},
          "mark": {"type": "rect", "color": "#ff8000"},
          "encoding": {
            "x": {"field": "t0", "type": "quantitative", "scale": {"domain": [0, 24], "nice": false, "zero": false}},
            "x2": {"field": "t1"},
            "y": {"field": "v", "type": "quantitative", "scale": {"domain": [0, 100], "nice": false, "zero": false},
              "axis": {"orient": "right", "offset": 112.3, "values": [0,10,20,30,40,50,60,70,80,90,100], "format": "d", "labelColor": "#ff8000", "tickSize": 4, "labelPadding": 0, "title": "min", "titleColor": "#ff8000", "titleAngle": 0, "titleX": 8.7, "titleY": -16, "titleAlign": "center", "titleBaseline": "middle"}},
            "y2": {"datum": 0}
          }
        },
        {
          "data": {"name": "dir"},
          "mark": {"type": "tick", "orient": "horizontal", "color": "#808080", "thickness": 2, "size": 5},
          "encoding": {
            "x": {"field": "t", "type": "quantitative", "scale": {"domain": [0, 24], "nice": false, "zero": false}},
            "y": {"field": "v", "type": "quantitative", "scale": {"domain": [0, 360], "nice": false, "zero": false},
              "axis": {"orient": "left", "offset": 36.3, "values": [0,30,60,90,120,150,180,210,240,270,300,330,360], "labelExpr": "datum.value === 360 ? '360 N' : datum.value === 270 ? '270 W' : datum.value === 180 ? '180 S' : datum.value === 90 ? '90\u00a0\u00a0O' : datum.value === 0 ? '0\u00a0\u00a0\u00a0\u00a0\u00a0N' : '' + datum.value", "labelColor": "#808080", "tickSize": 5, "labelPadding": 1, "title": "°", "titleColor": "#808080", "titleAngle": 0, "titleX": -12.7, "titleY": -16, "titleAlign": "center", "titleBaseline": "middle"}}
          }
        },
        {
          "data": {"name": "LB"},
          "mark": {"type": "line", "color": "#00ffff", "strokeWidth": 1.5},
          "encoding": {
            "x": {"field": "t", "type": "quantitative", "scale": {"domain": [0, 24], "nice": false, "zero": false}},
            "y": {"field": "v", "type": "quantitative", "scale": {"domain": [0, 15], "nice": false, "zero": false},
              "axis": {"orient": "left", "offset": 110.7, "values": [0,1,2,3,4,5,6,7,8,9,10,11,12,13,14,15], "format": "d", "labelColor": "#00ffff", "tickSize": 5, "labelPadding": 1, "title": "lf", "titleColor": "#00ffff", "titleAngle": 0, "titleX": -12.8, "titleY": -16, "titleAlign": "center", "titleBaseline": "middle"}}
          }
        },
        {
          "data": {"name": "R"},
          "mark": {"type": "line", "color": "#0000ff", "strokeWidth": 2, "interpolate": "step-after"},
          "encoding": {
            "x": {"field": "t", "type": "quantitative", "scale": {"domain": [0, 24], "nice": false, "zero": false}},
            "y": {"field": "v", "type": "quantitative", "scale": {"domain": [0, 5], "nice": false, "zero": false},
              "axis": {"orient": "left", "offset": 73.7, "values": [0,1,2,3,4,5], "format": ".1f", "labelColor": "#0000ff", "tickSize": 5, "labelPadding": 1, "title": "l/m²", "titleColor": "#0000ff", "titleAngle": 0, "titleX": -18.6, "titleY": -16, "titleAlign": "center", "titleBaseline": "middle"}}
          }
        },
        {
          "data": {"name": "W"},
          "mark": {"type": "line", "color": "#000000", "strokeWidth": 1},
          "encoding": {
            "x": {"field": "t", "type": "quantitative", "scale": {"domain": [0, 24], "nice": false, "zero": false}},
            "y": {"field": "v", "type": "quantitative", "scale": {"domain": [0, 80], "nice": false, "zero": false},
              "axis": {"orient": "right", "offset": 76.3, "values": [0,5,10,15,20,25,30,35,40,45,50,55,60,65,70,75,80], "format": ".1f", "labelColor": "#000000", "tickSize": 5, "labelPadding": 0, "title": "km/h", "titleColor": "#000000", "titleAngle": 0, "titleX": 11.4, "titleY": -16, "titleAlign": "center", "titleBaseline": "middle"}}
          }
        },
        {
          "data": {"name": "TP"},
          "mark": {"type": "line", "color": "#00ff00", "strokeWidth": 1},
          "encoding": {
            "x": {"field": "t", "type": "quantitative", "scale": {"domain": [0, 24], "nice": false, "zero": false}},
            "y": {"field": "v", "type": "quantitative", "scale": {"domain": [10, 24], "nice": false, "zero": false},
              "axis": {"orient": "left", "offset": 188, "labels": false, "ticks": false, "domain": true, "domainColor": "#ffffff", "title": null}}
          }
        },
        {
          "data": {"name": "P"},
          "mark": {"type": "line", "color": "#ff0080", "strokeWidth": 1},
          "encoding": {
            "x": {"field": "t", "type": "quantitative", "scale": {"domain": [0, 24], "nice": false, "zero": false}},
            "y": {"field": "v", "type": "quantitative", "scale": {"domain": [1016, 1023], "nice": false, "zero": false},
              "axis": {"orient": "right", "offset": 38, "values": [1016,1017,1018,1019,1020,1021,1022,1023], "format": "d", "labelColor": "#ff0080", "tickSize": 5, "labelPadding": 1, "title": "hPa", "titleColor": "#ff0080", "titleAngle": 0, "titleX": 8.5, "titleY": -16, "titleAlign": "center", "titleBaseline": "middle"}}
          }
        },
        {
          "data": {"name": "RH"},
          "mark": {"type": "line", "color": "#8080ff", "strokeWidth": 1},
          "encoding": {
            "x": {"field": "t", "type": "quantitative", "scale": {"domain": [0, 24], "nice": false, "zero": false}},
            "y": {"field": "v", "type": "quantitative", "scale": {"domain": [0, 100], "nice": false, "zero": false},
              "axis": {"orient": "right", "offset": 0, "values": [0,10,20,30,40,50,60,70,80,90,100], "format": "d", "labelColor": "#8080ff", "tickSize": 4, "labelPadding": 0, "domain": false, "title": "%", "titleColor": "#8080ff", "titleAngle": 0, "titleX": 7, "titleY": -16, "titleAlign": "center", "titleBaseline": "middle"}}
          }
        },
        {
          "data": {"name": "T5"},
          "mark": {"type": "line", "color": "#804000", "strokeWidth": 1},
          "encoding": {
            "x": {"field": "t", "type": "quantitative", "scale": {"domain": [0, 24], "nice": false, "zero": false}},
            "y": {"field": "v", "type": "quantitative", "scale": {"domain": [10, 24], "nice": false, "zero": false}, "axis": null}
          }
        },
        {
          "data": {"name": "T2"},
          "mark": {"type": "line", "color": "#008000", "strokeWidth": 3},
          "encoding": {
            "x": {"field": "t", "type": "quantitative", "scale": {"domain": [0, 24], "nice": false, "zero": false}},
            "y": {"field": "v", "type": "quantitative", "scale": {"domain": [10, 24], "nice": false, "zero": false},
              "axis": {"orient": "left", "offset": 147, "values": [10,12,14,16,18,20,22,24], "format": ".1f", "labelColor": "#008000", "tickSize": 5, "labelPadding": 2, "title": "°C", "titleColor": "#008000", "titleAngle": 0, "titleX": -17, "titleY": -16, "titleAlign": "center", "titleBaseline": "middle"}}
          }
        },
        {
          "data": {"name": "ev"},
          "mark": {"type": "rule", "strokeWidth": 2.5},
          "encoding": {
            "x": {"field": "t", "type": "quantitative", "scale": {"domain": [0, 24], "nice": false, "zero": false}},
            "y": {"datum": 0, "type": "quantitative", "scale": {"domain": [0, 10], "nice": false, "zero": false}, "axis": null},
            "y2": {"datum": -0.2},
            "color": {"condition": {"test": "datum.kind === 'sun'", "value": "#ffff00"}, "value": "#808080"}
          }
        },
        {
          "data": {"name": "ev"},
          "transform": [{"filter": "datum.side === 'l'"}],
          "mark": {"type": "text", "align": "right", "baseline": "middle", "dx": -5, "dy": 26, "fontSize": 11, "color": "#000000"},
          "encoding": {
            "x": {"field": "t", "type": "quantitative", "scale": {"domain": [0, 24], "nice": false, "zero": false}},
            "y": {"datum": 0, "type": "quantitative", "scale": {"domain": [0, 10], "nice": false, "zero": false}, "axis": null},
            "text": {"field": "lab"}
          }
        },
        {
          "data": {"name": "ev"},
          "transform": [{"filter": "datum.side === 'r'"}],
          "mark": {"type": "text", "align": "left", "baseline": "middle", "dx": 8, "dy": 26, "fontSize": 11, "color": "#000000"},
          "encoding": {
            "x": {"field": "t", "type": "quantitative", "scale": {"domain": [0, 24], "nice": false, "zero": false}},
            "y": {"datum": 0, "type": "quantitative", "scale": {"domain": [0, 10], "nice": false, "zero": false}, "axis": null},
            "text": {"field": "lab"}
          }
        },
        {
          "data": {"name": "ev"},
          "mark": {"type": "text", "align": "center", "baseline": "middle", "dx": 1, "dy": 26, "fontSize": 13, "font": "DejaVu Sans", "color": "#f0e000"},
          "encoding": {
            "x": {"field": "t", "type": "quantitative", "scale": {"domain": [0, 24], "nice": false, "zero": false}},
            "y": {"datum": 0, "type": "quantitative", "scale": {"domain": [0, 10], "nice": false, "zero": false}, "axis": null},
            "text": {"field": "sym"}
          }
        },
        {
          "data": {"name": "leg"},
          "mark": {"type": "square", "opacity": 0, "filled": true},
          "encoding": {
            "color": {"field": "s", "type": "nominal",
              "scale": {"domain": ["T- 2m aktiv","T +5cm*","F- 2m aktiv","F- Blatt","Luftdruck","Regen","Wind*","Richtung","Sonnenschein","UV","Solar","Taupunkt","Windböen","18.8 Monat-Ø"],
                        "range": ["#008000","#804000","#8080ff","#00ffff","#ff0080","#0000ff","#000000","#808080","#ff8000","#ffff00","#ffa07a","#00ff00","#c0c0c0","#ffffff"]},
              "legend": {"orient": "none", "legendX": 7, "legendY": -55, "columns": 4, "direction": "horizontal", "title": null, "symbolType": "square", "symbolSize": 72, "symbolStrokeColor": "#000000", "symbolStrokeWidth": 1, "symbolOpacity": 1, "labelFontSize": 11, "labelOffset": 5, "rowPadding": 0, "columnPadding": 9, "gridAlign": "all", "padding": 0, "labelLimit": 200,
                "labelColor": {"expr": "(datum.label === 'T- 2m aktiv' || datum.label === 'T +5cm*' || datum.label === 'Taupunkt') ? '#008000' : datum.label === '18.8 Monat-Ø' ? '#008040' : datum.label === 'F- 2m aktiv' ? '#8080ff' : datum.label === 'F- Blatt' ? '#00e8e8' : datum.label === 'Luftdruck' ? '#ff0080' : datum.label === 'Regen' ? '#0000ff' : datum.label === 'Richtung' ? '#808080' : datum.label === 'Sonnenschein' ? '#ff8000' : datum.label === 'UV' ? '#ffff00' : datum.label === 'Solar' ? '#ffa07a' : '#000000'"}}
            }
          }
        }
      ]
    },
    {
      "width": 657,
      "height": 92,
      "view": {"stroke": null},
      "layer": [
        {
          "data": {"values": [{}]},
          "mark": {"type": "rect", "color": "#c0c0c0"},
          "encoding": {
            "x": {"datum": -0.737, "type": "quantitative", "scale": {"domain": [0.856, 6.424], "nice": false, "zero": false}, "axis": null},
            "x2": {"datum": 6.424}
          }
        },
        {
          "data": {"values": [{"k":0},{"k":1},{"k":2},{"k":3},{"k":4},{"k":5},{"k":6}]},
          "mark": {"type": "rule", "color": "#f2f2f2", "strokeWidth": 1.5},
          "encoding": {
            "x": {"field": "k", "type": "quantitative", "scale": {"domain": [0.856, 6.424], "nice": false, "zero": false}, "axis": null}
          }
        },
        {
          "data": {"name": "tbl"},
          "transform": [{"filter": "datum.pos === 'lab'"}],
          "mark": {"type": "text", "align": "left", "baseline": "middle", "dx": 8, "fontSize": 12, "fontWeight": "bold", "color": "#000000"},
          "encoding": {
            "x": {"datum": -0.737, "type": "quantitative", "scale": {"domain": [0.856, 6.424], "nice": false, "zero": false}, "axis": null},
            "y": {"field": "row", "type": "ordinal", "scale": {"type": "point", "domain": ["Sensor","MinWert","MaxWert","Durchschnitt","07.08. 23:55"], "padding": 0.92}, "axis": null},
            "text": {"field": "text"}
          }
        },
        {
          "data": {"name": "tbl"},
          "transform": [{"filter": "datum.pos === 'l'"}],
          "mark": {"type": "text", "align": "left", "baseline": "middle", "dx": 8, "fontSize": {"expr": "datum.row === 'Sensor' ? 12 : 11"}, "fontWeight": {"expr": "datum.row === 'Sensor' ? 'bold' : 'normal'"}, "color": "#000000"},
          "encoding": {
            "x": {"field": "col", "type": "quantitative", "scale": {"domain": [0.856, 6.424], "nice": false, "zero": false}, "axis": null},
            "y": {"field": "row", "type": "ordinal", "scale": {"type": "point", "domain": ["Sensor","MinWert","MaxWert","Durchschnitt","07.08. 23:55"], "padding": 0.92}, "axis": null},
            "text": {"field": "text"}
          }
        },
        {
          "data": {"name": "tbl"},
          "transform": [{"filter": "datum.pos === 'li'"}],
          "mark": {"type": "text", "align": "left", "baseline": "middle", "dx": 14, "fontSize": 11, "color": "#000000"},
          "encoding": {
            "x": {"field": "col", "type": "quantitative", "scale": {"domain": [0.856, 6.424], "nice": false, "zero": false}, "axis": null},
            "y": {"field": "row", "type": "ordinal", "scale": {"type": "point", "domain": ["Sensor","MinWert","MaxWert","Durchschnitt","07.08. 23:55"], "padding": 0.92}, "axis": null},
            "text": {"field": "text"}
          }
        },
        {
          "data": {"name": "tbl"},
          "transform": [{"filter": "datum.pos === 'r'"}],
          "mark": {"type": "text", "align": "right", "baseline": "middle", "dx": 111, "fontSize": {"expr": "datum.row === 'Sensor' ? 12 : 11"}, "fontWeight": {"expr": "(datum.row === 'Sensor' || datum.row === '07.08. 23:55') ? 'bold' : 'normal'"}, "color": "#000000"},
          "encoding": {
            "x": {"field": "col", "type": "quantitative", "scale": {"domain": [0.856, 6.424], "nice": false, "zero": false}, "axis": null},
            "y": {"field": "row", "type": "ordinal", "scale": {"type": "point", "domain": ["Sensor","MinWert","MaxWert","Durchschnitt","07.08. 23:55"], "padding": 0.92}, "axis": null},
            "text": {"field": "text"}
          }
        }
      ]
    }
  ]
}
